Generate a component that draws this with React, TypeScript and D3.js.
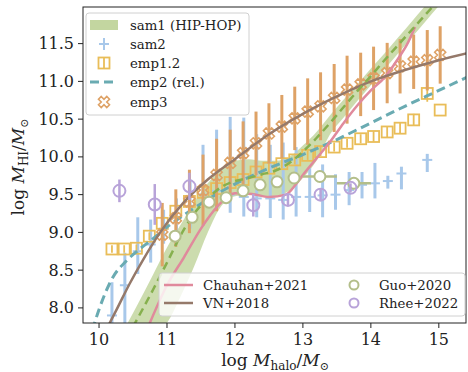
import React from 'react';
import * as d3 from 'd3';

const W = 468, H = 372;
const PL = 83, PT = 7, PR = 466, PB = 323;
const X_DOMAIN: [number, number] = [9.764, 15.40];
const Y_DOMAIN: [number, number] = [7.80, 11.985];
const xTicks = [10, 11, 12, 13, 14, 15];
const yTicks = [8.0, 8.5, 9.0, 9.5, 10.0, 10.5, 11.0, 11.5];

// sam1 (HIP-HOP) band + median
const sam1BandX = [10.3, 10.6, 10.8, 11.0, 11.2, 11.4, 11.6, 11.8, 12.0, 12.2, 12.4, 12.6, 12.8, 13.0, 13.2, 13.4, 13.6, 13.8, 14.0, 14.2, 14.4, 14.6, 14.8, 15.0];
const sam1Upper = [7.6, 8.1, 8.45, 8.8, 9.1, 9.4, 9.65, 9.85, 9.95, 9.97, 9.95, 9.95, 10.0, 10.15, 10.33, 10.55, 10.76, 10.96, 11.17, 11.37, 11.58, 11.79, 12.0, 12.2];
const sam1Lower = [7.2, 7.5, 7.65, 7.8, 8.15, 8.55, 9.0, 9.35, 9.48, 9.5, 9.47, 9.48, 9.55, 9.72, 9.95, 10.3, 10.52, 10.74, 10.95, 11.16, 11.37, 11.58, 11.79, 12.0];
const sam1MedX = [10.5, 10.8, 11.0, 11.25, 11.4, 11.6, 11.8, 12.0, 12.2, 12.4, 12.6, 12.8, 13.0, 13.2, 13.4, 13.6, 13.8, 14.0, 14.2, 14.4, 14.6, 14.8, 14.95];
const sam1MedY = [7.75, 8.25, 8.6, 9.04, 9.25, 9.45, 9.6, 9.68, 9.72, 9.77, 9.82, 9.92, 10.07, 10.25, 10.45, 10.66, 10.87, 11.07, 11.28, 11.48, 11.68, 11.88, 12.03];

// sam2 (points with vertical error bars)
const sam2X = [10.19, 10.38, 10.57, 10.76, 10.95, 11.14, 11.34, 11.53, 11.73, 11.93, 12.13, 12.32, 12.52, 12.71, 12.9, 13.1, 13.29, 13.48, 13.68, 13.87, 14.06, 14.25, 14.45, 14.83];
const sam2Y = [7.9, 8.3, 8.75, 8.84, 9.05, 9.2, 9.35, 9.5, 9.55, 9.5, 9.47, 9.45, 9.45, 9.43, 9.47, 9.47, 9.49, 9.5, 9.56, 9.63, 9.65, 9.68, 9.78, 9.96];
const sam2Lo = [7.4, 7.8, 8.45, 8.6, 8.85, 8.95, 9.05, 9.39, 9.3, 9.26, 9.21, 9.2, 9.19, 9.17, 9.21, 9.27, 9.2, 9.3, 9.36, 9.45, 9.45, 9.58, 9.57, 9.8];
const sam2Hi = [8.34, 8.73, 9.2, 9.17, 9.3, 9.45, 9.7, 10.16, 10.36, 10.53, 10.52, 10.3, 10.16, 10.19, 10.13, 9.85, 9.9, 9.77, 9.8, 9.8, 9.92, 9.75, 9.87, 10.04];

// emp1.2 (open squares)
const emp12X = [10.19, 10.37, 10.55, 10.74, 10.93, 11.13, 11.33, 11.53, 11.73, 11.93, 12.12, 12.31, 12.5, 12.69, 12.88, 13.07, 13.26, 13.46, 13.65, 13.85, 14.04, 14.24, 14.43, 14.63, 14.83, 15.02];
const emp12Y = [8.78, 8.78, 8.79, 8.95, 9.12, 9.28, 9.41, 9.53, 9.58, 9.66, 9.7, 9.8, 9.85, 9.91, 9.96, 10.02, 10.07, 10.13, 10.18, 10.24, 10.27, 10.33, 10.38, 10.49, 10.84, 10.62];
const emp12Err = [0.05, 0.05, 0.05, 0.05, 0.05, 0.05, 0.05, 0.05, 0.05, 0.05, 0.06, 0.06, 0.06, 0.06, 0.06, 0.06, 0.06, 0.06, 0.06, 0.06, 0.07, 0.07, 0.07, 0.08, 0.11, 0.0];

// emp2 (rel.) dashed curve
const emp2X = [9.9, 10.0, 10.2, 10.4, 10.6, 10.8, 11.0, 11.2, 11.5, 12.0, 12.5, 13.0, 13.5, 14.0, 14.5, 15.0, 15.45];
const emp2Y = [7.7, 7.98, 8.4, 8.62, 8.78, 8.92, 9.07, 9.2, 9.38, 9.64, 9.85, 10.03, 10.23, 10.45, 10.67, 10.88, 11.07];

// emp3 (X markers, error bars)
const emp3X = [10.93, 11.13, 11.33, 11.53, 11.73, 11.93, 12.12, 12.31, 12.5, 12.69, 12.88, 13.07, 13.26, 13.46, 13.65, 13.85, 14.04, 14.24, 14.43, 14.63, 14.83, 15.02];
const emp3Y = [8.97, 9.19, 9.41, 9.56, 9.76, 9.92, 10.05, 10.18, 10.31, 10.4, 10.51, 10.6, 10.67, 10.78, 10.89, 10.96, 11.04, 11.11, 11.2, 11.26, 11.28, 11.35];
const emp3Err = [0.42, 0.38, 0.42, 0.47, 0.48, 0.44, 0.42, 0.42, 0.4, 0.42, 0.42, 0.44, 0.45, 0.45, 0.45, 0.42, 0.42, 0.4, 0.36, 0.36, 0.4, 0.38];

// Chauhan+2021
const chauhanX = [10.7, 11.0, 11.25, 11.5, 11.75, 12.0, 12.25, 12.5, 12.75, 12.9, 13.0, 13.2, 13.4, 13.6, 13.8, 14.0, 14.2, 14.4, 14.55, 14.65];
const chauhanY = [7.7, 8.3, 8.67, 9.05, 9.35, 9.52, 9.51, 9.47, 9.5, 9.64, 9.76, 9.98, 10.2, 10.45, 10.68, 10.88, 11.05, 11.3, 11.52, 11.72];

// VN+2018
const vnX = [10.1, 10.26, 10.45, 10.65, 10.9, 11.24, 11.6, 12.0, 12.5, 13.0, 13.5, 14.0, 14.5, 15.0, 15.45];
const vnY = [7.7, 7.98, 8.32, 8.64, 9.0, 9.39, 9.7, 9.97, 10.3, 10.57, 10.8, 11.0, 11.15, 11.28, 11.38];

// Guo+2020
const guoX = [11.12, 11.37, 11.62, 11.87, 12.12, 12.37, 12.62, 12.87, 13.25, 13.75];
const guoY = [8.95, 9.2, 9.4, 9.46, 9.55, 9.63, 9.67, 9.72, 9.74, 9.65];
const guoXErr = [0, 0, 0, 0, 0, 0, 0, 0, 0.25, 0.25];

// Rhee+2022
const rheeX = [10.3, 10.82, 11.33, 12.27, 12.78, 13.26, 13.7];
const rheeY = [9.55, 9.37, 9.61, 9.36, 9.43, 9.5, 9.59];
const rheeErr = [0.15, 0.27, 0.18, 0.15, 0.08, 0.08, 0.06];

const C = {
  band: '#c3d6a0',
  sam1: '#86b04e',
  sam2: '#a8c8ea',
  emp12: '#e9bd58',
  emp2: '#6aabb2',
  emp3: '#dea266',
  chauhan: '#e08a9c',
  vn: '#95796a',
  guo: '#b3be8a',
  rhee: '#b8a3d9',
};

const FONT = "'DejaVu Serif', 'Liberation Serif', serif";

function xMarkerPath(s: number) {
  const v = [[-1, -2], [0, -1], [1, -2], [2, -1], [1, 0], [2, 1], [1, 2], [0, 1], [-1, 2], [-2, 1], [-1, 0], [-2, -1]];
  return 'M' + v.map(([a, b]) => `${(a * s) / 2},${(b * s) / 2}`).join('L') + 'Z';
}

export default function App() {
  const x = d3.scaleLinear().domain(X_DOMAIN).range([PL, PR]);
  const y = d3.scaleLinear().domain(Y_DOMAIN).range([PB, PT]);

  const line = (xs: number[], ys: number[]) =>
    d3.line<number>().x((_, i) => x(xs[i])).y((d) => y(d)).curve(d3.curveMonotoneX)(ys) || '';
  const band = d3
    .area<number>()
    .x((_, i) => x(sam1BandX[i]))
    .y0((_, i) => y(sam1Lower[i]))
    .y1((d) => y(d))
    .curve(d3.curveMonotoneX)(sam1Upper) || '';

  const xm = xMarkerPath(5.5);

  return (
    <svg width={W} height={H} style={{ position: 'absolute', left: 0, top: 0, background: '#fff', fontFamily: FONT }}>
      <defs>
        <clipPath id="plot">
          <rect x={PL} y={PT} width={PR - PL} height={PB - PT} />
        </clipPath>
      </defs>
      <rect x={0} y={0} width={W} height={H} fill="#fff" />
      <g clipPath="url(#plot)">
        <path d={band} fill={C.band} opacity={0.85} />
        {sam2X.map((v, i) => (
          <g key={'s2' + i} stroke={C.sam2} strokeWidth={3}>
            <line x1={x(v)} x2={x(v)} y1={y(sam2Lo[i])} y2={y(sam2Hi[i])} />
            <line x1={x(v) - 5} x2={x(v) + 5} y1={y(sam2Y[i])} y2={y(sam2Y[i])} strokeWidth={2} />
          </g>
        ))}
        {emp12X.map((v, i) => (
          <g key={'e12' + i} stroke={C.emp12} fill="none" strokeWidth={1.8}>
            {emp12Err[i] > 0 && (
              <line x1={x(v)} x2={x(v)} y1={y(emp12Y[i] - emp12Err[i])} y2={y(emp12Y[i] + emp12Err[i])} />
            )}
            <rect x={x(v) - 5.5} y={y(emp12Y[i]) - 5.5} width={11} height={11} />
          </g>
        ))}
        <path d={line(emp2X, emp2Y)} fill="none" stroke={C.emp2} strokeWidth={3} strokeDasharray="9,5" />
        {emp3X.map((v, i) => (
          <g key={'e3' + i}>
            <line x1={x(v)} x2={x(v)} y1={y(emp3Y[i] - emp3Err[i])} y2={y(emp3Y[i] + emp3Err[i])} stroke={C.emp3} strokeWidth={3} />
            <path d={xm} transform={`translate(${x(v)},${y(emp3Y[i])})`} fill="none" stroke={C.emp3} strokeWidth={1.6} />
          </g>
        ))}
        <path d={line(chauhanX, chauhanY)} fill="none" stroke={C.chauhan} strokeWidth={2.5} />
        <path d={line(vnX, vnY)} fill="none" stroke={C.vn} strokeWidth={2.5} />
        <path d={line(sam1MedX, sam1MedY)} fill="none" stroke={C.sam1} strokeWidth={2.5} strokeDasharray="8,5" />
        {guoX.map((v, i) => (
          <g key={'g' + i} stroke={C.guo} strokeWidth={2}>
            {guoXErr[i] > 0 && (
              <line x1={x(v - guoXErr[i])} x2={x(v + guoXErr[i])} y1={y(guoY[i])} y2={y(guoY[i])} strokeWidth={2.5} />
            )}
            <circle cx={x(v)} cy={y(guoY[i])} r={5.5} fill="#fff" />
          </g>
        ))}
        {rheeX.map((v, i) => (
          <g key={'r' + i} stroke={C.rhee}>
            <line x1={x(v)} x2={x(v)} y1={y(rheeY[i] - rheeErr[i])} y2={y(rheeY[i] + rheeErr[i])} strokeWidth={2.5} />
            <circle cx={x(v)} cy={y(rheeY[i])} r={6} fill="none" strokeWidth={2} />
          </g>
        ))}
      </g>
      <rect x={PL} y={PT} width={PR - PL} height={PB - PT} fill="none" stroke="#222" strokeWidth={1} />
      {xTicks.map((t) => (
        <g key={'xt' + t}>
          <line x1={x(t)} x2={x(t)} y1={PB} y2={PB + 5} stroke="#222" />
          <text x={x(t)} y={PB + 22} textAnchor="middle" fontSize={16} fill="#222">{t}</text>
        </g>
      ))}
      {yTicks.map((t) => (
        <g key={'yt' + t}>
          <line x1={PL - 5} x2={PL} y1={y(t)} y2={y(t)} stroke="#222" />
          <text x={PL - 9} y={y(t) + 5.5} textAnchor="end" fontSize={16} fill="#222">{t.toFixed(1)}</text>
        </g>
      ))}
      <text x={275} y={366} textAnchor="middle" fontSize={17} fill="#222">
        log <tspan fontStyle="italic">M</tspan>
        <tspan fontSize={12} dy={4}>halo</tspan>
        <tspan dy={-4}>/</tspan>
        <tspan fontStyle="italic">M</tspan>
        <tspan fontSize={11} dy={4}>⊙</tspan>
      </text>
      <text transform="translate(24,167) rotate(-90)" textAnchor="middle" fontSize={17} fill="#222">
        log <tspan fontStyle="italic">M</tspan>
        <tspan fontSize={12} dy={4}>HI</tspan>
        <tspan dy={-4}>/</tspan>
        <tspan fontStyle="italic">M</tspan>
        <tspan fontSize={11} dy={4}>⊙</tspan>
      </text>
      <g>
        <rect x={86} y={13} width={163} height={102} rx={3} fill="#fff" fillOpacity={0.8} stroke="#d0d0d0" />
        <rect x={90} y={20} width={28} height={10} fill={C.band} />
        <g stroke={C.sam2} strokeWidth={2}>
          <line x1={104} x2={104} y1={38} y2={50} />
          <line x1={99} x2={109} y1={44} y2={44} />
        </g>
        <g stroke={C.emp12} strokeWidth={1.8} fill="none">
          <rect x={98.5} y={57.5} width={11} height={11} />
          <line x1={104} x2={104} y1={57.5} y2={68.5} />
        </g>
        <line x1={90} x2={118} y1={82} y2={82} stroke={C.emp2} strokeWidth={3} strokeDasharray="9,5" />
        <path d={xm} transform="translate(104,102)" fill="none" stroke={C.emp3} strokeWidth={1.6} />
        <g fontSize={13.3} fill="#222">
          <text x={130} y={30}>sam1 (HIP-HOP)</text>
          <text x={130} y={49}>sam2</text>
          <text x={130} y={68}>emp1.2</text>
          <text x={130} y={87}>emp2 (rel.)</text>
          <text x={130} y={107}>emp3</text>
        </g>
      </g>
      <g>
        <rect x={159} y={273} width={306} height={43} rx={3} fill="#fff" fillOpacity={0.8} stroke="#d0d0d0" />
        <line x1={164} x2={193} y1={285} y2={285} stroke={C.chauhan} strokeWidth={2.5} />
        <line x1={164} x2={193} y1={303} y2={303} stroke={C.vn} strokeWidth={2.5} />
        <circle cx={354} cy={285} r={4.5} fill="#fff" stroke={C.guo} strokeWidth={2} />
        <circle cx={354} cy={303} r={4.5} fill="none" stroke={C.rhee} strokeWidth={2} />
        <g fontSize={13.3} fill="#222">
          <text x={203} y={290}>Chauhan+2021</text>
          <text x={203} y={308}>VN+2018</text>
          <text x={379} y={290}>Guo+2020</text>
          <text x={379} y={308}>Rhee+2022</text>
        </g>
      </g>
    </svg>
  );
}
